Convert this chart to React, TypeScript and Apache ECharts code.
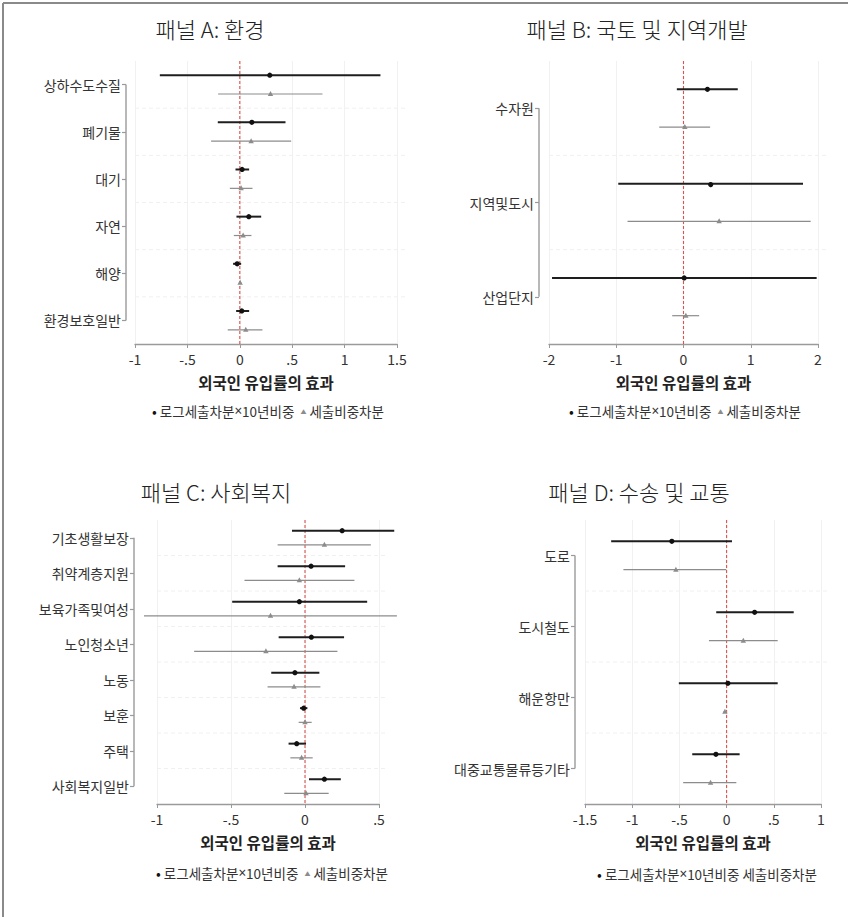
import React, { useEffect, useRef } from 'react';
import * as echarts from 'echarts';

const seriesNames = ['로그세출차분×10년비중', '세출비중차분'];
const axisTitle = '외국인 유입률의 효과';

// Panel A
const titleA = '패널 A: 환경';
const catsA = ['상하수도수질', '폐기물', '대기', '자연', '해양', '환경보호일반'];
const ticksA = [-1, -0.5, 0, 0.5, 1, 1.5];
// [low, high, estimate]
const blackA = [[-0.763, 1.342, 0.286], [-0.21, 0.436, 0.115], [-0.041, 0.089, 0.022], [-0.032, 0.204, 0.086], [-0.064, 0.013, -0.025], [-0.035, 0.089, 0.019]];
const grayA = [[-0.207, 0.789, 0.293], [-0.274, 0.49, 0.108], [-0.095, 0.121, 0.013], [-0.057, 0.111, 0.032], [-0.006, 0.013, 0.003], [-0.115, 0.216, 0.057]];

// Panel B
const titleB = '패널 B: 국토 및 지역개발';
const catsB = ['수자원', '지역및도시', '산업단지'];
const ticksB = [-2, -1, 0, 1, 2];
const blackB = [[-0.099, 0.807, 0.356], [-0.97, 1.777, 0.401], [-1.955, 1.98, 0.01]];
const grayB = [[-0.361, 0.396, 0.02], [-0.832, 1.891, 0.53], [-0.168, 0.233, 0.035]];

// Panel C
const titleC = '패널 C: 사회복지';
const catsC = ['기초생활보장', '취약계층지원', '보육가족및여성', '노인청소년', '노동', '보훈', '주택', '사회복지일반'];
const ticksC = [-1, -0.5, 0, 0.5];
const blackC = [[-0.088, 0.603, 0.251], [-0.185, 0.271, 0.041], [-0.492, 0.42, -0.038], [-0.178, 0.264, 0.043], [-0.228, 0.097, -0.068], [-0.034, 0.016, -0.009], [-0.111, 0.007, -0.056], [0.027, 0.242, 0.131]];
const grayC = [[-0.185, 0.445, 0.131], [-0.409, 0.334, -0.038], [-1.088, 0.621, -0.233], [-0.749, 0.219, -0.264], [-0.253, 0.104, -0.074], [-0.043, 0.045, 0.0], [-0.099, 0.052, -0.023], [-0.14, 0.16, 0.007]];

// Panel D
const titleD = '패널 D: 수송 및 교통';
const catsD = ['도로', '도시철도', '해운항만', '대중교통물류등기타'];
const ticksD = [-1.5, -1, -0.5, 0, 0.5, 1];
const blackD = [[-1.223, 0.057, -0.58], [-0.11, 0.711, 0.297], [-0.506, 0.541, 0.014], [-0.364, 0.138, -0.113]];
const grayD = [[-1.093, -0.004, -0.537], [-0.187, 0.541, 0.177], [-0.032, 0.004, -0.018], [-0.46, 0.103, -0.17]];

const panels = [
  { title: titleA, cats: catsA, ticks: ticksA, black: blackA, gray: grayA, layout: { left: 135, width: 262, top: 61, height: 283, off: 9, tx: 210, ty: 28, lx: 268, ly: 411, tri: true } },
  { title: titleB, cats: catsB, ticks: ticksB, black: blackB, gray: grayB, layout: { left: 549, width: 269, top: 61, height: 283, off: 10, tx: 637, ty: 28, lx: 685, ly: 411, tri: true } },
  { title: titleC, cats: catsC, ticks: ticksC, black: blackC, gray: grayC, layout: { left: 157, width: 222, top: 520, height: 284, off: 23, tx: 216, ty: 491, lx: 272, ly: 873, tri: true } },
  { title: titleD, cats: catsD, ticks: ticksD, black: blackD, gray: grayD, layout: { left: 585, width: 236, top: 520, height: 284, off: 10, tx: 639, ty: 491, lx: 707, ly: 874, tri: false } },
];

const FONT = '"Noto Sans CJK KR", "Noto Sans", sans-serif';

function fmtTick(v: number) {
  const r = Math.round(v * 1000) / 1000;
  let s = String(r);
  s = s.replace(/^(-?)0\./, '$1.');
  return s;
}

export default function App() {
  const ref = useRef<HTMLDivElement>(null);
  useEffect(() => {
    if (!ref.current) return;
    const chart = echarts.init(ref.current, undefined, { renderer: 'svg' });
    const grid: any[] = [];
    const xAxis: any[] = [];
    const yAxis: any[] = [];
    const series: any[] = [];
    const graphic: any[] = [];

    graphic.push({ type: 'line', shape: { x1: 3, y1: 3, x2: 848, y2: 3 }, style: { stroke: '#8a8a8a', lineWidth: 2 } });
    graphic.push({ type: 'line', shape: { x1: 3, y1: 3, x2: 3, y2: 917 }, style: { stroke: '#8a8a8a', lineWidth: 2 } });

    panels.forEach((p, pi) => {
      const L = p.layout;
      const n = p.cats.length;
      grid.push({ left: L.left, top: L.top, width: L.width, height: L.height, containLabel: false });
      xAxis.push({
        type: 'value', gridIndex: pi,
        min: p.ticks[0], max: p.ticks[p.ticks.length - 1], interval: p.ticks[1] - p.ticks[0],
        name: axisTitle, nameLocation: 'middle', nameGap: 30,
        nameTextStyle: { fontFamily: FONT, fontSize: 15.5, fontWeight: 'bold', color: '#222' },
        axisLine: { show: true, onZero: false, lineStyle: { color: '#9a9a9a', width: 1.3 } },
        axisTick: { show: true, length: 4, lineStyle: { color: '#9a9a9a' } },
        axisLabel: { fontFamily: FONT, fontSize: 14, color: '#333', margin: 8, formatter: (v: number) => fmtTick(v) },
        splitLine: { show: true, lineStyle: { color: '#f1f1f1', width: 1 } },
      });
      const idx = p.cats.map((_, i) => i);
      yAxis.push({
        type: 'value', gridIndex: pi, inverse: true,
        min: -0.5, max: n - 0.5, offset: L.off,
        axisLine: { show: false, onZero: false },
        axisTick: { show: true, length: 4, customValues: idx, lineStyle: { color: '#9a9a9a', width: 1.2 } },
        axisLabel: { show: true, customValues: idx, margin: 5, fontFamily: FONT, fontSize: 14, color: '#333', formatter: (v: number) => p.cats[Math.round(v)] ?? '' },
        splitLine: { show: false },
      });
      // frame: grid lines, bracket, zero line
      series.push({
        type: 'custom', xAxisIndex: pi, yAxisIndex: pi, silent: true, clip: false, z: 1,
        data: [[0, 0]], encode: { x: 0, y: 1 },
        renderItem: (params: any, api: any) => {
          const cs = params.coordSys;
          const children: any[] = [];
          for (let i = 0; i < n - 1; i++) {
            const c = api.coord([0, i + 0.5]);
            children.push({ type: 'line', shape: { x1: cs.x, y1: c[1], x2: cs.x + cs.width + 8, y2: c[1] }, style: { stroke: '#f0f0f0', lineWidth: 1, lineDash: [4, 3] } });
          }
          const t = api.coord([0, 0]);
          const b = api.coord([0, n - 1]);
          const bx = cs.x - L.off;
          children.push({ type: 'line', shape: { x1: bx, y1: t[1], x2: bx, y2: b[1] }, style: { stroke: '#9a9a9a', lineWidth: 1.4 } });
          const z1 = api.coord([0, -0.5]);
          const z2 = api.coord([0, n - 0.5]);
          children.push({ type: 'line', shape: { x1: z1[0], y1: z1[1], x2: z2[0], y2: z2[1] }, style: { stroke: '#d9534f', lineWidth: 1.1, lineDash: [3, 2] } });
          return { type: 'group', children };
        },
      });
      [p.black, p.gray].forEach((rows, k) => {
        series.push({
          type: 'custom', name: seriesNames[k], xAxisIndex: pi, yAxisIndex: pi, clip: false, z: 3 - k,
          data: rows.map((r, i) => [r[0], r[1], r[2], i]),
          encode: { x: [0, 1, 2], y: 3 },
          renderItem: (params: any, api: any) => {
            const y = api.value(3) + (k === 0 ? -0.2 : 0.2);
            const a = api.coord([api.value(0), y]);
            const b = api.coord([api.value(1), y]);
            const c = api.coord([api.value(2), y]);
            const children: any[] = [
              { type: 'line', shape: { x1: a[0], y1: a[1], x2: b[0], y2: b[1] }, style: { stroke: k === 0 ? '#1e1e1e' : '#8c8c8c', lineWidth: k === 0 ? 2 : 1.2 } },
            ];
            if (k === 0) {
              children.push({ type: 'circle', shape: { cx: c[0], cy: c[1], r: 2.6 }, style: { fill: '#111' } });
            } else {
              children.push({ type: 'polygon', shape: { points: [[c[0], c[1] - 3], [c[0] - 2.7, c[1] + 2], [c[0] + 2.7, c[1] + 2]] }, style: { fill: '#8c8c8c' } });
            }
            return { type: 'group', children };
          },
        });
      });
      graphic.push({
        type: 'text', x: L.tx, y: L.ty,
        style: { text: p.title, fontFamily: FONT, fontSize: 22, fontWeight: 300, fill: '#222', textAlign: 'center', textVerticalAlign: 'middle' },
      });
      const parts = seriesNames[0].split('×');
      const first = `${parts[0]}{x|×}${parts[1]}`;
      const legendText = L.tri
        ? `{d|•} ${first}  {t|▲} ${seriesNames[1]}`
        : `{d|•} ${first} ${seriesNames[1]}`;
      graphic.push({
        type: 'text', x: L.lx, y: L.ly,
        style: {
          text: legendText, fontFamily: FONT, fontSize: 13.5, fill: '#333', textAlign: 'center', textVerticalAlign: 'middle',
          rich: {
            d: { fontSize: 14, fill: '#111', fontFamily: FONT },
            x: { fontSize: 13.5, fill: '#333', fontFamily: '"Noto Sans", "DejaVu Sans", sans-serif' },
            t: { fontSize: 6, fill: '#8c8c8c', fontFamily: FONT },
          },
        },
      });
    });

    chart.setOption({
      animation: false,
      backgroundColor: '#ffffff',
      textStyle: { fontFamily: FONT },
      grid, xAxis, yAxis, series, graphic,
    });
    return () => chart.dispose();
  }, []);
  return <div ref={ref} style={{ position: 'absolute', left: 0, top: 0, width: 848, height: 917 }} />;
}
